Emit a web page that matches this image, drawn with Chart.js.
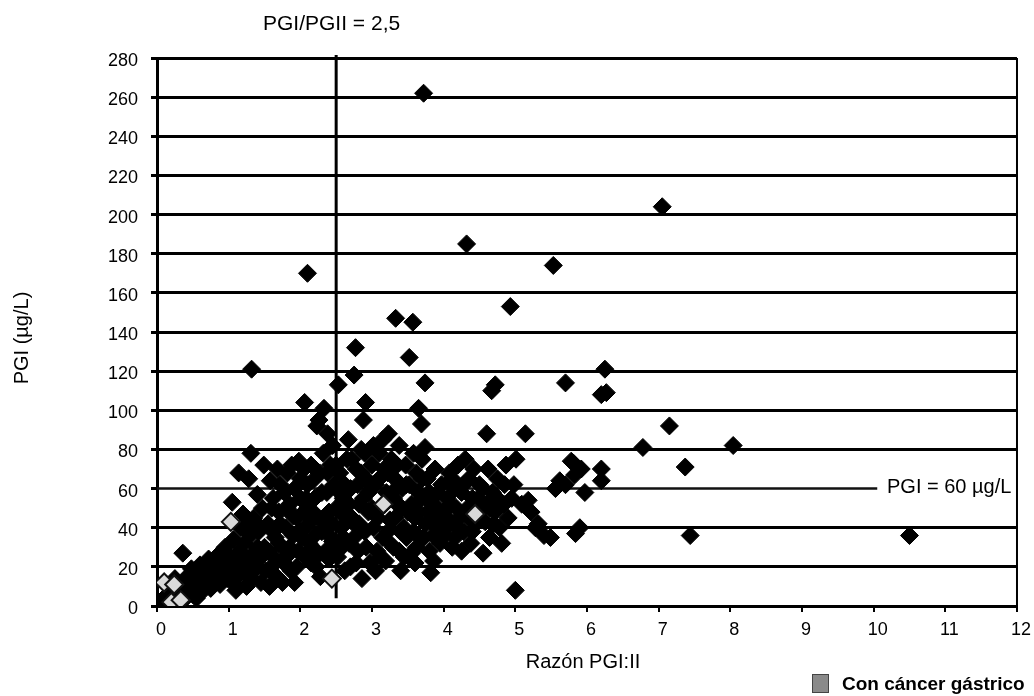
<!DOCTYPE html>
<html>
<head>
<meta charset="utf-8">
<script src="https://cdn.jsdelivr.net/npm/chart.js@4.4.0/dist/chart.umd.min.js"></script>
<style>
  html, body { margin: 0; padding: 0; background: #fff; }
  #wrap { width: 1034px; height: 696px; position: relative; }
</style>
</head>
<body>
<div id="wrap"><canvas id="chartPGI"></canvas></div>
<script>
// Razón PGI:II (x) vs PGI µg/L (y)

// patients without gastric cancer, [ratio, PGI]
const generalPts = [
  // ratio 0 - 1
  [0.03, 1], [0.08, 3], [0.12, 2], [0.15, 6], [0.2, 4], [0.22, 8], [0.28, 5], [0.3, 10], [0.33, 7],
  [0.38, 12], [0.4, 4], [0.42, 15], [0.45, 9], [0.48, 19], [0.36, 27], [0.5, 6], [0.52, 13], [0.55, 17],
  [0.58, 10], [0.6, 21], [0.62, 7], [0.65, 15], [0.68, 12], [0.7, 18], [0.72, 24], [0.75, 9], [0.78, 16],
  [0.8, 20], [0.82, 13], [0.85, 26], [0.88, 11], [0.9, 22], [0.92, 17], [0.95, 30], [0.98, 14],
  [0.25, 14], [0.55, 4], [0.3, 2], [0.15, 10],
  // ratio 1 - 1.5
  [1.0, 19], [1.02, 25], [1.05, 12], [1.07, 34], [1.1, 22], [1.12, 15], [1.15, 28], [1.17, 40], [1.2, 18],
  [1.22, 32], [1.25, 10], [1.27, 24], [1.3, 36], [1.32, 14], [1.35, 45], [1.37, 28], [1.4, 20], [1.42, 38],
  [1.45, 12], [1.47, 50], [1.5, 30], [1.05, 53], [1.14, 68], [1.31, 78], [1.28, 65], [1.32, 121], [1.49, 72],
  [1.4, 57], [1.2, 47], [1.1, 8], [1.45, 25], [1.35, 18], [1.45, 40], [1.25, 40], [1.15, 20], [1.4, 30],
  // ratio 1.5 - 2
  [1.52, 18], [1.55, 42], [1.57, 10], [1.6, 26], [1.62, 55], [1.65, 35], [1.67, 15], [1.7, 48], [1.72, 62],
  [1.75, 30], [1.77, 22], [1.8, 40], [1.82, 68], [1.85, 52], [1.87, 18], [1.9, 36], [1.92, 60], [1.95, 45],
  [1.97, 28], [2.0, 55], [1.58, 64], [1.68, 70], [1.78, 58], [1.88, 72], [1.98, 74], [1.62, 38], [1.75, 12],
  [1.85, 30], [1.95, 20], [1.55, 28], [1.6, 50], [1.65, 22], [1.7, 32], [1.72, 42], [1.8, 25], [1.82, 50],
  [1.9, 46], [1.92, 12], [2.0, 38], [2.0, 65],
  // ratio 2 - 2.5
  [2.02, 35], [2.05, 48], [2.06, 104], [2.08, 25], [2.1, 62], [2.12, 42], [2.15, 72], [2.17, 30], [2.2, 55],
  [2.22, 20], [2.23, 92], [2.25, 45], [2.27, 68], [2.3, 38], [2.32, 78], [2.33, 101], [2.35, 28], [2.37, 58],
  [2.4, 48], [2.42, 72], [2.45, 33], [2.47, 62], [2.5, 50], [2.1, 170], [2.26, 95], [2.38, 88], [2.15, 22],
  [2.28, 15], [2.05, 70], [2.45, 82], [2.2, 36], [2.4, 24], [2.08, 55], [2.12, 32], [2.18, 48], [2.2, 65],
  [2.25, 26], [2.3, 58], [2.35, 42], [2.38, 68], [2.45, 42], [2.48, 28], [2.5, 72], [2.4, 36], [2.1, 50],
  // ratio 2.5 - 3
  [2.52, 25], [2.53, 113], [2.55, 68], [2.57, 40], [2.6, 55], [2.62, 18], [2.65, 75], [2.67, 85], [2.68, 32],
  [2.7, 60], [2.72, 45], [2.75, 118], [2.77, 132], [2.78, 70], [2.8, 28], [2.82, 52], [2.85, 80], [2.86, 14],
  [2.88, 95], [2.9, 38], [2.91, 104], [2.92, 65], [2.95, 48], [2.97, 22], [3.0, 72], [2.6, 35], [2.7, 20],
  [2.8, 62], [2.9, 78], [2.55, 48], [2.75, 42], [2.95, 58], [2.58, 30], [2.62, 62], [2.65, 45], [2.68, 52],
  [2.72, 75], [2.75, 35], [2.78, 22], [2.82, 42], [2.85, 68], [2.88, 55], [2.92, 30], [2.98, 62], [2.55, 58],
  // ratio 3 - 3.5
  [3.02, 40], [3.05, 62], [3.07, 28], [3.1, 78], [3.12, 50], [3.15, 35], [3.17, 70], [3.19, 23], [3.2, 58],
  [3.23, 88], [3.25, 44], [3.27, 75], [3.3, 30], [3.32, 65], [3.33, 147], [3.35, 52], [3.38, 82], [3.4, 38],
  [3.42, 60], [3.45, 25], [3.47, 72], [3.5, 48], [3.52, 127], [3.15, 85], [3.3, 55], [3.4, 18], [3.05, 18],
  [3.25, 32], [3.45, 40], [3.0, 50], [3.02, 82], [3.08, 45], [3.1, 65], [3.12, 25], [3.18, 52], [3.22, 38],
  [3.22, 68], [3.28, 58], [3.32, 45], [3.35, 72], [3.38, 28], [3.42, 50], [3.48, 35], [3.48, 62],
  // ratio 3.5 - 4
  [3.52, 62], [3.55, 27], [3.57, 145], [3.58, 78], [3.6, 45], [3.62, 68], [3.65, 101], [3.67, 35], [3.69, 93],
  [3.7, 55], [3.72, 262], [3.74, 114], [3.74, 81], [3.75, 42], [3.77, 65], [3.8, 28], [3.82, 17], [3.84, 52],
  [3.86, 23], [3.88, 70], [3.9, 40], [3.92, 58], [3.95, 32], [3.97, 62], [4.0, 48], [3.6, 22], [3.7, 75],
  [3.85, 36], [3.65, 58], [3.55, 52], [3.58, 38], [3.62, 30], [3.65, 48], [3.7, 65], [3.72, 35], [3.78, 48],
  [3.8, 58], [3.88, 45], [3.92, 50], [3.98, 40],
  // ratio 4 - 4.5
  [4.02, 36], [4.05, 55], [4.08, 68], [4.1, 42], [4.12, 30], [4.15, 60], [4.16, 35], [4.18, 50], [4.2, 72],
  [4.22, 45], [4.25, 58], [4.28, 38], [4.3, 75], [4.32, 185], [4.33, 50], [4.35, 65], [4.38, 32], [4.4, 55],
  [4.42, 70], [4.45, 42], [4.48, 55], [4.5, 62], [4.25, 28], [4.4, 48], [4.05, 45], [4.1, 52], [4.12, 65],
  [4.2, 40], [4.28, 62], [4.35, 45], [4.4, 38], [4.5, 48],
  // ratio 4.5 - 5
  [4.55, 27], [4.58, 43], [4.6, 88], [4.62, 70], [4.64, 35], [4.67, 110], [4.68, 58], [4.72, 48], [4.72, 113],
  [4.75, 65], [4.78, 40], [4.81, 32], [4.84, 52], [4.87, 72], [4.9, 45], [4.93, 153], [4.95, 55], [4.98, 62],
  [5.01, 75], [5.0, 8], [4.65, 50], [4.85, 62], [4.55, 60], [4.6, 52], [4.7, 42], [4.75, 55],
  // ratio 5 - 6.3
  [5.09, 52], [5.14, 88], [5.18, 54], [5.22, 48], [5.28, 40], [5.32, 42], [5.4, 36], [5.49, 35], [5.53, 174],
  [5.56, 60], [5.62, 64], [5.7, 62], [5.7, 114], [5.78, 74], [5.81, 73], [5.83, 67], [5.84, 37], [5.92, 70],
  [5.97, 58], [6.2, 70], [6.2, 64], [6.2, 108], [6.25, 121], [6.27, 109], [5.9, 40],
  // isolated high ratios
  [6.78, 81], [7.05, 204], [7.15, 92], [7.37, 71], [7.44, 36], [8.04, 82], [10.5, 36]
];

// patients with gastric cancer
const cancerPts = [
  [0.1, 12], [0.24, 11], [0.2, 2], [0.33, 3], [1.03, 43], [2.44, 14], [3.16, 52], [4.44, 47]
];

const RATIO_CUT = 2.5;   // PGI/PGII = 2,5
const PGI_CUT = 60;      // PGI = 60 µg/L

const FONT = "'Liberation Sans', Arial, sans-serif";

const refLines = {
  id: 'refLines',
  beforeDatasetsDraw(chart) {
    const { ctx, chartArea, scales: { x, y } } = chart;
    ctx.save();
    ctx.strokeStyle = '#000';

    // right frame
    ctx.lineWidth = 2;
    ctx.beginPath();
    ctx.moveTo(chartArea.right, chartArea.top);
    ctx.lineTo(chartArea.right, chartArea.bottom);
    ctx.stroke();

    // vertical cut at ratio 2,5
    const xc = x.getPixelForValue(RATIO_CUT);
    ctx.lineWidth = 3;
    ctx.beginPath();
    ctx.moveTo(xc, chartArea.top - 3);
    ctx.lineTo(xc, y.getPixelForValue(4));
    ctx.stroke();

    // horizontal cut at PGI 60
    const yc = y.getPixelForValue(PGI_CUT);
    ctx.strokeStyle = '#111';
    ctx.lineWidth = 2.5;
    ctx.beginPath();
    ctx.moveTo(chartArea.left, yc);
    ctx.lineTo(x.getPixelForValue(10.05), yc);
    ctx.stroke();
    ctx.restore();
  },
  afterDraw(chart) {
    const { ctx } = chart;
    ctx.save();
    ctx.fillStyle = '#000';
    ctx.textBaseline = 'alphabetic';

    ctx.font = `21px ${FONT}`;
    ctx.textAlign = 'left';
    ctx.fillText('PGI/PGII = 2,5', 263, 30);

    ctx.font = `20px ${FONT}`;
    ctx.fillText('PGI = 60 µg/L', 887, 493);

    ctx.textAlign = 'center';
    ctx.fillText('Razón PGI:II', 583, 668);

    ctx.save();
    ctx.translate(22, 338);
    ctx.rotate(-Math.PI / 2);
    ctx.textBaseline = 'middle';
    ctx.fillText('PGI (µg/L)', 0, 0);
    ctx.restore();

    // legend
    ctx.fillStyle = '#8a8a8a';
    ctx.fillRect(812, 674, 17, 19);
    ctx.strokeStyle = '#444';
    ctx.lineWidth = 1;
    ctx.strokeRect(812.5, 674.5, 16, 18);
    ctx.fillStyle = '#000';
    ctx.textAlign = 'left';
    ctx.font = `bold 19px ${FONT}`;
    ctx.fillText('Con cáncer gástrico', 842, 690);
    ctx.restore();
  }
};

new Chart(document.getElementById('chartPGI'), {
  type: 'scatter',
  data: {
    datasets: [
      {
        label: 'Con cáncer gástrico',
        data: cancerPts.map(([x, y]) => ({ x, y })),
        pointStyle: 'rectRot',
        pointRadius: 9,
        backgroundColor: '#d9d9d9',
        borderColor: '#111',
        borderWidth: 2,
        order: 0
      },
      {
        label: 'Sin cáncer gástrico',
        data: generalPts.map(([x, y]) => ({ x, y })),
        pointStyle: 'rectRot',
        pointRadius: 9,
        backgroundColor: '#000',
        borderColor: '#000',
        borderWidth: 1,
        order: 1
      }
    ]
  },
  options: {
    responsive: true,
    maintainAspectRatio: false,
    animation: false,
    layout: { padding: { top: 58, right: 13, left: 0, bottom: 0 } },
    plugins: { legend: { display: false }, tooltip: { enabled: false } },
    scales: {
      x: {
        type: 'linear',
        min: 0,
        max: 12,
        afterFit: s => { s.height = 90; },
        ticks: { stepSize: 1, color: '#000', font: { family: FONT, size: 18 }, padding: 7, labelOffset: 4, maxRotation: 0 },
        grid: { drawOnChartArea: false, drawTicks: true, tickLength: 6, color: '#000', lineWidth: 2 },
        border: { display: true, color: '#000', width: 3 }
      },
      y: {
        min: 0,
        max: 280,
        afterFit: s => { s.width = 157; },
        ticks: { stepSize: 20, color: '#000', font: { family: FONT, size: 18 }, padding: 13, labelOffset: 3 },
        grid: {
          color: c => (c.tick && c.tick.value === PGI_CUT ? 'rgba(0,0,0,0)' : '#000'),
          tickColor: '#000',
          lineWidth: 3,
          tickLength: 6
        },
        border: { display: true, color: '#000', width: 3 }
      }
    }
  },
  plugins: [refLines]
});
</script>
</body>
</html>
